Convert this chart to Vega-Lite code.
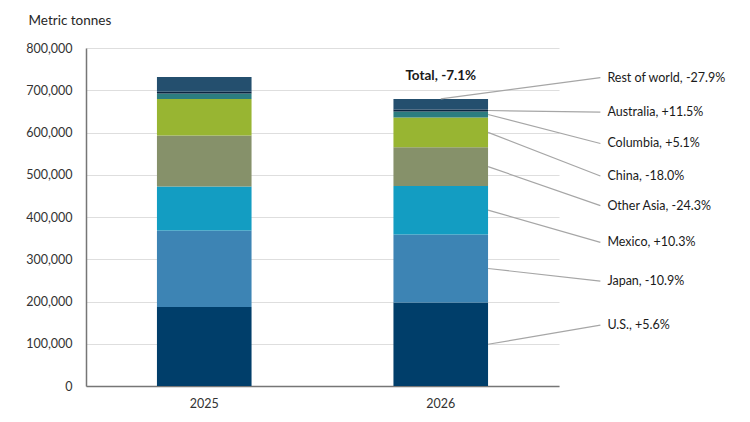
{
  "$schema": "https://vega.github.io/schema/vega-lite/v6.json",
  "width": 473,
  "height": 338,
  "autosize": {"type": "none"},
  "padding": {"left": 86, "top": 48, "right": 191, "bottom": 36},
  "background": "white",
  "config": {
    "font": "Lato",
    "view": {"stroke": null},
    "axis": {"labelFont": "Lato", "titleFont": "Lato", "labelColor": "#333333", "titleColor": "#262626"}
  },
  "datasets": {
    "tonnes": [
      {"year": "2025", "region": "U.S.", "tonnes": 187000},
      {"year": "2025", "region": "Japan", "tonnes": 181000},
      {"year": "2025", "region": "Mexico", "tonnes": 104000},
      {"year": "2025", "region": "Other Asia", "tonnes": 121000},
      {"year": "2025", "region": "China", "tonnes": 86000},
      {"year": "2025", "region": "Columbia", "tonnes": 13500},
      {"year": "2025", "region": "Australia", "tonnes": 4000},
      {"year": "2025", "region": "Rest of world", "tonnes": 35000},
      {"year": "2026", "region": "U.S.", "tonnes": 197500},
      {"year": "2026", "region": "Japan", "tonnes": 161300},
      {"year": "2026", "region": "Mexico", "tonnes": 114700},
      {"year": "2026", "region": "Other Asia", "tonnes": 91600},
      {"year": "2026", "region": "China", "tonnes": 70500},
      {"year": "2026", "region": "Columbia", "tonnes": 14200},
      {"year": "2026", "region": "Australia", "tonnes": 4500},
      {"year": "2026", "region": "Rest of world", "tonnes": 25200}
    ],
    "labels": [
      {"region": "Rest of world", "label": "Rest of world, -27.9%", "label_at": 730000},
      {"region": "Australia", "label": "Australia, +11.5%", "label_at": 648000},
      {"region": "Columbia", "label": "Columbia, +5.1%", "label_at": 574000},
      {"region": "China", "label": "China, -18.0%", "label_at": 497000},
      {"region": "Other Asia", "label": "Other Asia, -24.3%", "label_at": 427000},
      {"region": "Mexico", "label": "Mexico, +10.3%", "label_at": 340000},
      {"region": "Japan", "label": "Japan, -10.9%", "label_at": 248000},
      {"region": "U.S.", "label": "U.S., +5.6%", "label_at": 144000}
    ]
  },
  "data": {"name": "tonnes"},
  "transform": [
    {"calculate": "indexof(['U.S.','Japan','Mexico','Other Asia','China','Columbia','Australia','Rest of world'], datum.region)", "as": "k"},
    {"stack": "tonnes", "groupby": ["year"], "sort": [{"field": "k", "order": "ascending"}], "as": ["lo", "hi"]},
    {"calculate": "(datum.lo + datum.hi) / 2", "as": "mid"}
  ],
  "layer": [
    {
      "encoding": {
        "x": {
          "field": "year",
          "type": "nominal",
          "scale": {"paddingInner": 0.6, "paddingOuter": 0.3},
          "axis": {
            "title": null,
            "labelAngle": 0,
            "labelFontSize": 12.5,
            "labelPadding": 11,
            "ticks": false,
            "domainColor": "#767676",
            "domainWidth": 1.5
          }
        }
      },
      "layer": [
        {
          "mark": {"type": "bar"},
          "encoding": {
            "y": {
              "field": "lo",
              "type": "quantitative",
              "scale": {"domain": [0, 800000], "nice": false},
              "axis": {
                "values": [0, 100000, 200000, 300000, 400000, 500000, 600000, 700000, 800000],
                "labelExpr": "format(datum.value, ',.0f')",
                "title": "Metric tonnes",
                "titleAngle": 0,
                "titleAlign": "left",
                "titleBaseline": "middle",
                "titleX": -58,
                "titleY": -28,
                "titleFontSize": 13.5,
                "titleFontWeight": "normal",
                "labelFontSize": 12.5,
                "labelPadding": 14,
                "ticks": false,
                "domainColor": "#767676",
                "domainWidth": 1.5,
                "gridColor": "#dedede",
                "gridWidth": 1.2
              }
            },
            "y2": {"field": "hi"},
            "color": {
              "field": "region",
              "type": "nominal",
              "legend": null,
              "scale": {
                "domain": ["U.S.", "Japan", "Mexico", "Other Asia", "China", "Columbia", "Australia", "Rest of world"],
                "range": ["#003E6A", "#3D84B4", "#139DC2", "#86916A", "#98B532", "#2C7D80", "#0B2540", "#244F6E"]
              }
            }
          }
        },
        {
          "transform": [{"filter": "datum.year == '2026' && datum.region == 'Rest of world'"}],
          "mark": {"type": "text", "fontWeight": "bold", "fontSize": 13.5, "baseline": "middle", "dy": -23, "color": "#1a1a1a"},
          "encoding": {
            "y": {"field": "hi", "type": "quantitative"},
            "text": {"value": "Total, -7.1%"}
          }
        }
      ]
    },
    {
      "transform": [
        {"filter": "datum.year == '2026'"},
        {"lookup": "region", "from": {"data": {"name": "labels"}, "key": "region", "fields": ["label", "label_at"]}}
      ],
      "layer": [
        {
          "transform": [{"filter": "datum.region != 'Rest of world'"}],
          "mark": {"type": "rule", "color": "#a6a6a6", "strokeWidth": 1.2},
          "encoding": {
            "x": {"datum": 1.7, "type": "quantitative", "scale": {"domain": [0, 2], "nice": false}, "axis": null},
            "x2": {"datum": 2.175},
            "y": {"field": "mid", "type": "quantitative"},
            "y2": {"field": "label_at"}
          }
        },
        {
          "transform": [{"filter": "datum.region == 'Rest of world'"}],
          "mark": {"type": "rule", "color": "#a6a6a6", "strokeWidth": 1.2},
          "encoding": {
            "x": {"datum": 1.5, "type": "quantitative"},
            "x2": {"datum": 2.175},
            "y": {"field": "hi", "type": "quantitative"},
            "y2": {"field": "label_at"}
          }
        },
        {
          "mark": {"type": "text", "align": "left", "baseline": "middle", "dx": 7, "fontSize": 12.5, "color": "#1a1a1a"},
          "encoding": {
            "x": {"datum": 2.175, "type": "quantitative"},
            "y": {"field": "label_at", "type": "quantitative"},
            "text": {"field": "label"}
          }
        }
      ]
    }
  ],
  "resolve": {"scale": {"x": "independent"}, "axis": {"x": "independent"}}
}
